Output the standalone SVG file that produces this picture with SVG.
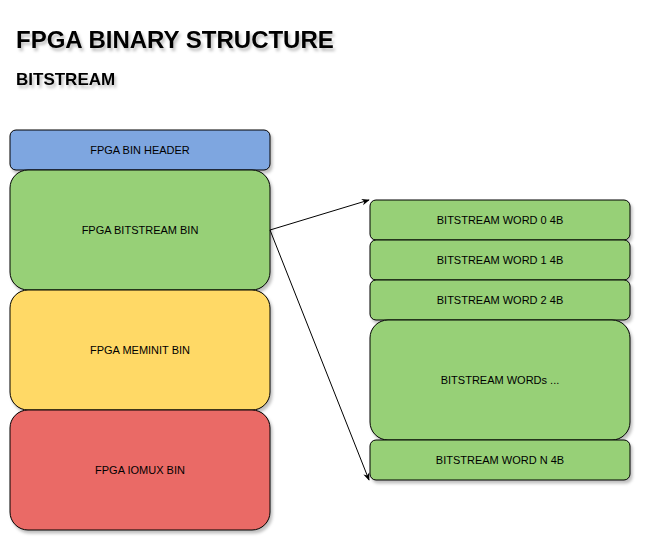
<svg xmlns="http://www.w3.org/2000/svg" width="652" height="552" viewBox="0 0 652 552">
<defs>
<filter id="sh" x="-10%" y="-10%" width="130%" height="130%"><feDropShadow dx="2" dy="3" stdDeviation="1.5" flood-color="#000" flood-opacity="0.25"/></filter>
<marker id="ar" viewBox="0 0 10 10" refX="9" refY="5" markerWidth="8" markerHeight="8" orient="auto"><path d="M0,1 L10,5 L0,9 L3,5 Z" fill="#000"/></marker>
</defs>
<style>
.b{stroke:#000;stroke-width:1;filter:url(#sh)}
.t{font-family:"Liberation Sans",Arial,sans-serif;font-size:11px;text-anchor:middle;fill:#000}
.h{font-family:"Liberation Sans",Arial,sans-serif;font-weight:bold;fill:#000;filter:url(#sh)}
</style>
<rect width="652" height="552" fill="#fff"/>
<text class="h" x="16" y="48" font-size="24">FPGA BINARY STRUCTURE</text>
<text class="h" x="16" y="85" font-size="17">BITSTREAM</text>
<g id="header"><rect class="b" x="10" y="130" width="260" height="40" rx="6" fill="#7ea6e0"/><text class="t" x="140" y="154">FPGA BIN HEADER</text></g>
<g id="bitstream"><rect class="b" x="10" y="170" width="260" height="120" rx="18" fill="#97d077"/><text class="t" x="140" y="234">FPGA BITSTREAM BIN</text></g>
<g id="meminit"><rect class="b" x="10" y="290" width="260" height="120" rx="18" fill="#ffd966"/><text class="t" x="140" y="354">FPGA MEMINIT BIN</text></g>
<g id="iomux"><rect class="b" x="10" y="410" width="260" height="120" rx="18" fill="#ea6b66"/><text class="t" x="140" y="474">FPGA IOMUX BIN</text></g>
<g id="w0"><rect class="b" x="370" y="200" width="260" height="40" rx="6" fill="#97d077"/><text class="t" x="500" y="224">BITSTREAM WORD 0 4B</text></g>
<g id="w1"><rect class="b" x="370" y="240" width="260" height="40" rx="6" fill="#97d077"/><text class="t" x="500" y="264">BITSTREAM WORD 1 4B</text></g>
<g id="w2"><rect class="b" x="370" y="280" width="260" height="40" rx="6" fill="#97d077"/><text class="t" x="500" y="304">BITSTREAM WORD 2 4B</text></g>
<g id="ws"><rect class="b" x="370" y="320" width="260" height="120" rx="18" fill="#97d077"/><text class="t" x="500" y="384">BITSTREAM WORDs ...</text></g>
<g id="wn"><rect class="b" x="370" y="440" width="260" height="40" rx="6" fill="#97d077"/><text class="t" x="500" y="464">BITSTREAM WORD N 4B</text></g>
<g id="connectors" stroke="#000" stroke-width="1" fill="none">
<path d="M270,230 L369,200" marker-end="url(#ar)"/>
<path d="M270,230 L369,480" marker-end="url(#ar)"/>
</g>
</svg>
